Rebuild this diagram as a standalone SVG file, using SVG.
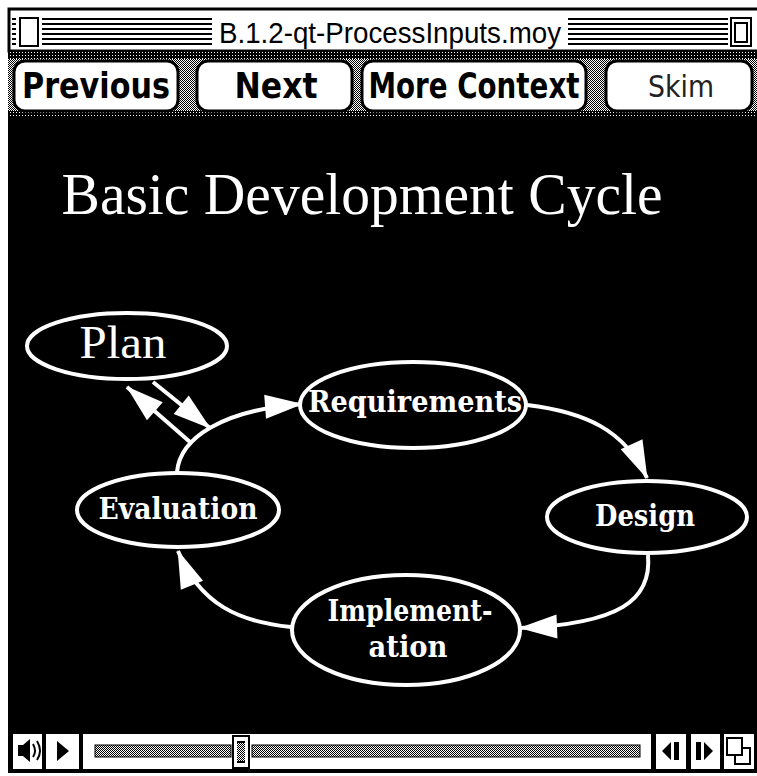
<svg xmlns="http://www.w3.org/2000/svg" width="757" height="776" viewBox="0 0 757 776">
<defs>
<pattern id="chk" width="2" height="2" patternUnits="userSpaceOnUse"><rect width="2" height="2" fill="#fff"/><rect width="1" height="1" fill="#000"/><rect x="1" y="1" width="1" height="1" fill="#000"/></pattern>
<pattern id="dots" width="3" height="3" patternUnits="userSpaceOnUse"><rect width="3" height="3" fill="#000"/><rect x="1" y="1" width="1" height="1" fill="#fff"/></pattern>
<marker id="ah" viewBox="-40 -15 42 30" refX="0" refY="0" markerWidth="42" markerHeight="30" markerUnits="userSpaceOnUse" orient="auto"><path d="M1,0 L-37,-12 L-37,12 Z" fill="#fff"/></marker>
<style>
.node ellipse{fill:#000;stroke:#fff;stroke-width:4}
.lbl{font-family:"DejaVu Serif","Liberation Serif",serif;font-weight:bold;font-size:30px;fill:#fff;text-anchor:middle}
.edge{fill:none;stroke:#fff;stroke-width:4;marker-end:url(#ah)}
.btn rect{fill:#fff;stroke:#000;stroke-width:3}
.btn text{font-family:"DejaVu Sans Condensed","DejaVu Sans",sans-serif;font-stretch:condensed;font-weight:bold;font-size:35px;fill:#000;text-anchor:middle}
.stripe{stroke:#000;stroke-width:2}
.cbox{fill:#fff;stroke:#000;stroke-width:2}
</style>
</defs>
<rect width="757" height="776" fill="#fff"/>
<!-- title bar -->
<g id="titlebar">
<rect x="9" y="9" width="750" height="42" fill="#fff" stroke="#000" stroke-width="3"/>
<g class="stripe">
<path d="M12 19H212M12 24H212M12 29H212M12 34H212M12 39H212M12 44H212"/>
<path d="M568 19H733M568 24H733M568 29H733M568 34H733M568 39H733M568 44H733"/>
</g>
<rect x="16" y="15" width="26" height="34" fill="#fff"/>
<rect x="20" y="18" width="18" height="28" fill="#fff" stroke="#000" stroke-width="2"/>
<rect x="728" y="15" width="26" height="34" fill="#fff"/>
<rect x="731" y="18" width="20" height="28" fill="#fff" stroke="#000" stroke-width="2"/>
<rect x="735" y="23" width="12" height="19" fill="none" stroke="#000" stroke-width="2"/>
<text x="390" y="43" font-family="Liberation Sans, Arial, sans-serif" font-size="30" textLength="342" lengthAdjust="spacingAndGlyphs" text-anchor="middle" fill="#000">B.1.2-qt-ProcessInputs.moy</text>
</g>
<!-- button bar -->
<g id="buttonbar">
<rect x="8" y="51" width="749" height="66" fill="url(#chk)"/>
<rect x="8" y="51" width="749" height="8" fill="url(#dots)"/>
<rect x="8" y="111" width="749" height="6" fill="url(#dots)"/>
<g id="btn-previous" class="btn"><rect x="14" y="61" width="164" height="50" rx="11"/><text x="96" y="98" textLength="148" lengthAdjust="spacingAndGlyphs">Previous</text></g>
<g id="btn-next" class="btn"><rect x="197" y="61" width="155" height="50" rx="11"/><text x="276" y="98" textLength="83" lengthAdjust="spacingAndGlyphs">Next</text></g>
<g id="btn-more" class="btn"><rect x="362" y="61" width="224" height="50" rx="11"/><text x="474" y="98" textLength="211" lengthAdjust="spacingAndGlyphs">More Context</text></g>
<g id="btn-skim" class="btn"><rect x="606" y="61" width="146" height="50" rx="11"/><text x="681" y="97" textLength="66" lengthAdjust="spacingAndGlyphs" style="font-weight:normal;font-size:30px;fill:#222">Skim</text></g>
</g>
<!-- screen -->
<rect x="8" y="117" width="749" height="656" fill="#000"/>
<text x="362" y="214" font-family="Liberation Serif, Times New Roman, serif" font-size="60" textLength="601" lengthAdjust="spacingAndGlyphs" text-anchor="middle" fill="#fff">Basic Development Cycle</text>
<!-- connectors -->
<g id="connectors">
<path class="edge" d="M177 472 C180 438 222 410 302 404"/>
<path class="edge" d="M153 382 L210 428"/>
<path class="edge" d="M190 442 L127 387"/>
<path class="edge" d="M527 405 C585 412 625 430 647 478"/>
<path class="edge" d="M648 555 C652 600 620 624 520 628"/>
<path class="edge" d="M291 627 C240 622 200 605 178 551"/>
</g>
<!-- nodes -->
<g id="node-plan" class="node"><ellipse cx="127" cy="346" rx="100" ry="33"/><text x="123" y="358" font-family="Liberation Serif, Times New Roman, serif" font-size="46" textLength="87" lengthAdjust="spacingAndGlyphs" text-anchor="middle" fill="#fff">Plan</text></g>
<g id="node-requirements" class="node"><ellipse cx="413" cy="405" rx="113" ry="43"/><text class="lbl" x="415" y="412" textLength="214" lengthAdjust="spacingAndGlyphs">Requirements</text></g>
<g id="node-design" class="node"><ellipse cx="647" cy="517" rx="100" ry="36"/><text class="lbl" x="645" y="526" textLength="100" lengthAdjust="spacingAndGlyphs">Design</text></g>
<g id="node-implementation" class="node"><ellipse cx="406" cy="630" rx="114" ry="55"/><text class="lbl" x="410" y="621" textLength="165" lengthAdjust="spacingAndGlyphs">Implement-</text><text class="lbl" x="408" y="657" textLength="79" lengthAdjust="spacingAndGlyphs">ation</text></g>
<g id="node-evaluation" class="node"><ellipse cx="178" cy="510" rx="101" ry="37"/><text class="lbl" x="178" y="519" textLength="159" lengthAdjust="spacingAndGlyphs">Evaluation</text></g>
<!-- controller -->
<g id="controller">
<rect x="12" y="733" width="31" height="37" class="cbox"/>
<path d="M18 745h5v11h-5z M23 745l7-6v23l-7-6z" fill="#000"/>
<path d="M33 744q4 7 0 13 M37 741q6 10 0 19" fill="none" stroke="#000" stroke-width="2"/>
<rect x="45" y="733" width="35" height="37" class="cbox"/>
<path d="M57 741l12 10l-12 10z" fill="#000"/>
<rect x="82" y="733" width="570" height="37" class="cbox"/>
<rect x="95" y="745" width="136" height="12" fill="url(#chk)" stroke="#000" stroke-width="1"/>
<rect x="252" y="745" width="388" height="12" fill="url(#chk)" stroke="#000" stroke-width="1"/>
<rect x="233" y="736" width="16" height="32" fill="#fff" stroke="#000" stroke-width="2"/>
<rect x="237" y="741" width="8" height="22" fill="url(#chk)"/>
<path d="M237 742h8M237 762h8" stroke="#000" stroke-width="2"/>
<rect x="655" y="733" width="32" height="37" class="cbox"/>
<path d="M662 751l9-9v18z M674 742h5v18h-5z" fill="#000"/>
<rect x="690" y="733" width="31" height="37" class="cbox"/>
<path d="M696 742h5v18h-5z M704 742l9 9l-9 9z" fill="#000"/>
<rect x="723" y="733" width="32" height="37" class="cbox"/>
<rect x="735" y="748" width="15" height="16" fill="#fff" stroke="#000" stroke-width="2"/>
<rect x="727" y="738" width="15" height="17" fill="#fff" stroke="#000" stroke-width="2"/>
</g>
</svg>
